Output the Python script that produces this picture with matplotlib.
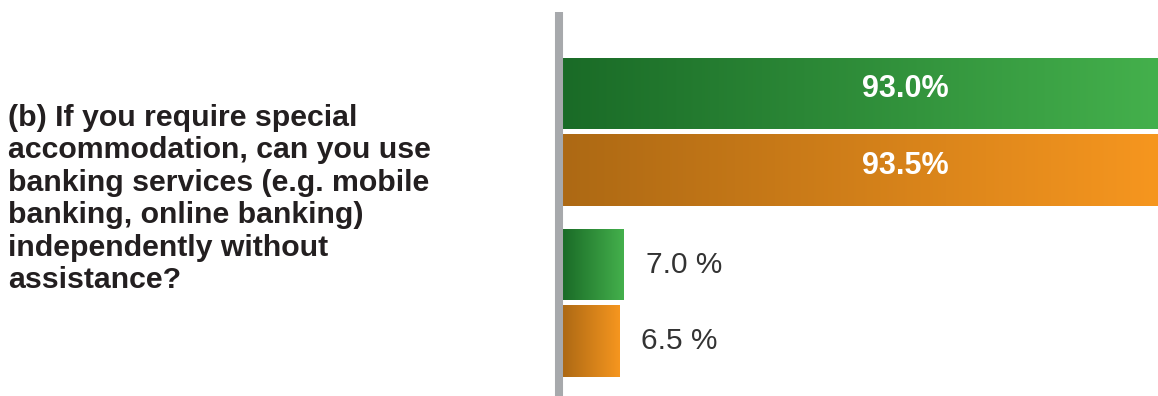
import matplotlib
matplotlib.use("Agg")
import matplotlib.pyplot as plt
import numpy as np
from matplotlib.colors import LinearSegmentedColormap
from matplotlib.transforms import blended_transform_factory

# ---- data ----
categories = ["Yes", "No"]
series_names = ["Series A", "Series B"]
values_a = [93.0, 7.0]   # green
values_b = [93.5, 6.5]   # orange
labels_a = ["93.0%", "7.0 %"]
labels_b = ["93.5%", "6.5 %"]
question = ("(b) If you require special\naccommodation, can you use\n"
            "banking services (e.g. mobile\nbanking, online banking)\n"
            "independently without\nassistance?")

green_cmap = LinearSegmentedColormap.from_list("g", ["#1a6b27", "#44b04c"])
orange_cmap = LinearSegmentedColormap.from_list("o", ["#ad6914", "#f6961f"])

W, H = 1158, 396
fig = plt.figure(figsize=(W / 100, H / 100), dpi=100)
ax_left = 563 / W
ax_top = 12 / H
ax = fig.add_axes([ax_left, 0, 1 - ax_left, 1 - ax_top])

xmax = 69.0
ax.set_xlim(0, xmax)
ax.set_ylim(1.5453, -0.7003)

bar_h = 0.418
off = 0.2237
y = np.arange(len(categories))

grad = np.linspace(0, 1, 256).reshape(1, -1)

def draw_bars(ypos, vals, cmap):
    bars = ax.barh(ypos, vals, height=bar_h, color="none", edgecolor="none")
    for b, v in zip(bars, vals):
        x1 = min(v, xmax)
        yy = b.get_y()
        im = ax.imshow(grad, cmap=cmap, aspect="auto",
                       extent=[0, x1, yy + b.get_height(), yy],
                       interpolation="bicubic", zorder=2)
        im.set_clip_path(b)
    return bars

bars_a = draw_bars(y - off, values_a, green_cmap)
bars_b = draw_bars(y + off, values_b, orange_cmap)
ax.set_xlim(0, xmax)
ax.set_ylim(1.5453, -0.7003)

trans = blended_transform_factory(ax.transAxes, ax.transData)
for ypos, vals, labs in [(y - off, values_a, labels_a), (y + off, values_b, labels_b)]:
    for yy, v, lab in zip(ypos, vals, labs):
        if v > 50:
            ax.text(0.575, yy - 0.025, lab, transform=trans, ha="center", va="center",
                    color="white", fontsize=22, fontweight="bold",
                    family="Liberation Sans", zorder=5)
        else:
            ax.annotate(lab, (v, yy), xytext=(16, 0), textcoords="offset points",
                        ha="left", va="center", color="#333333", fontsize=21.5,
                        family="Liberation Sans", zorder=5)

for s in ["top", "right", "bottom"]:
    ax.spines[s].set_visible(False)
ax.spines["left"].set_color("#a7a9ac")
ax.spines["left"].set_linewidth(5.8)
ax.spines["left"].set_capstyle("butt")
ax.spines["left"].set_position(("outward", 2.9))
ax.set_xticks([])
ax.set_yticks([])
ax.patch.set_alpha(0)

fig.text(8 / W, 1 - 199 / H, question, ha="left", va="center",
         fontsize=21.8, fontweight="bold", family="Liberation Sans",
         color="#231f20", linespacing=1.2)

fig.savefig("out.png", dpi=100)
